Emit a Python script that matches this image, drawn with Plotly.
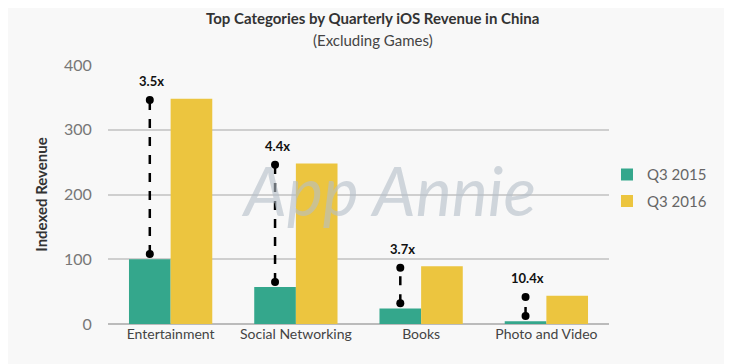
import plotly.graph_objects as go

categories = ["Entertainment", "Social Networking", "Books", "Photo and Video"]
q3_2015 = [100, 57, 24, 4.2]
q3_2016 = [348, 248, 89, 43.7]
growth_labels = ["3.5x", "4.4x", "3.7x", "10.4x"]
y_ticks = [0, 100, 200, 300, 400]

GREEN = "#34a78c"
YELLOW = "#ecc53f"
BG = "#f8f8f8"
FONT = "Lato, 'Open Sans', sans-serif"

x = list(range(len(categories)))
bargap = 0.335
bar_w = (1 - bargap) / 2
green_x = [i - bar_w / 2 for i in x]

fig = go.Figure()
fig.add_bar(x=x, y=q3_2015, name="Q3 2015", legendgroup="a",
            marker=dict(color=GREEN, line=dict(width=0)))
fig.add_bar(x=x, y=q3_2016, name="Q3 2016", legendgroup="b",
            marker=dict(color=YELLOW, line=dict(width=0)))

# dashed connectors from Q3 2015 to Q3 2016 level, over the green bar
for i in x:
    lo = q3_2015[i] + 8
    hi = q3_2016[i] - 2
    fig.add_trace(go.Scatter(
        x=[green_x[i], green_x[i]], y=[lo, hi], mode="lines+markers",
        line=dict(color="black", width=2.5, dash="dash"),
        marker=dict(color="black", size=8),
        showlegend=False, hoverinfo="skip"))
    fig.add_annotation(x=green_x[i], y=hi, text="<b>" + growth_labels[i] + "</b>",
                       showarrow=False, yshift=19, xshift=2,
                       font=dict(family=FONT, size=13, color="#111"))

# watermark
fig.add_annotation(xref="paper", yref="paper", x=0.56, y=0.52, text="App Annie",
                   showarrow=False, opacity=0.6,
                   font=dict(family="Lato", size=68, color="#b5bfc9", style="italic"))

# title and subtitle
fig.add_annotation(xref="paper", yref="paper", x=0.5, y=1.181, yanchor="middle",
                   text="<b>Top Categories by Quarterly iOS Revenue in China</b>",
                   showarrow=False, xshift=14,
                   font=dict(family=FONT, size=15, color="#333"))
fig.add_annotation(xref="paper", yref="paper", x=0.5, y=1.097, yanchor="middle",
                   text="(Excluding Games)", showarrow=False, xshift=14,
                   font=dict(family=FONT, size=15, color="#444"))

fig.update_layout(
    width=732, height=364,
    paper_bgcolor=BG, plot_bgcolor=BG,
    margin=dict(l=100, r=131, t=57, b=48, autoexpand=False),
    barmode="group", bargap=bargap, bargroupgap=0,
    font=dict(family=FONT, color="#555"),
    legend=dict(x=0.996, y=0.64, xanchor="left", yanchor="top",
                font=dict(family=FONT, size=15, color="#666"),
                bgcolor="rgba(0,0,0,0)", itemwidth=30, tracegroupgap=4),
    xaxis=dict(tickmode="array", tickvals=x, ticktext=categories, range=[-0.5, 3.5],
               showgrid=False, zeroline=False, showline=False, automargin=False,
               ticks="", tickfont=dict(family=FONT, size=14, color="#444")),
    yaxis=dict(range=[0, 400], tickvals=y_ticks, showgrid=True, gridcolor="#cfcfcf",
               gridwidth=1.5, zeroline=True, zerolinecolor="#bbb", zerolinewidth=1.5,
               ticks="outside", ticklen=12, tickcolor=BG, automargin=False,
               tickfont=dict(family=FONT, size=16, color="#777"),
               title=dict(text="<b>Indexed Revenue</b>", standoff=12,
                          font=dict(family=FONT, size=15, color="#333"))),
    showlegend=True,
)

fig.write_html("out.html")
